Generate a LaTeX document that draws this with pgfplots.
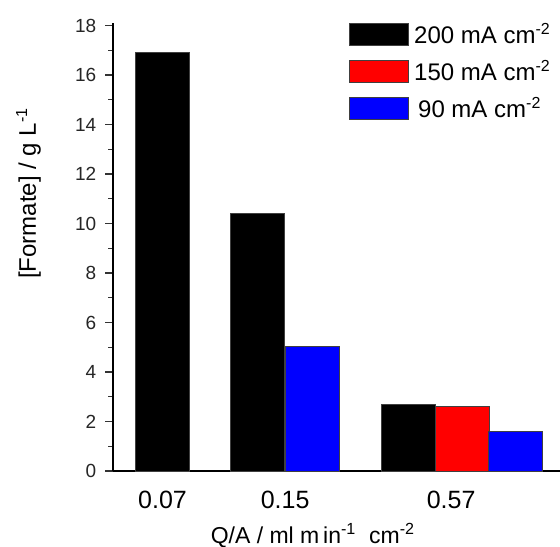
\documentclass[border=0pt]{standalone}
\usepackage{pgfplots}
\pgfplotsset{compat=1.18}
\usepackage{fontspec}
\setmainfont{Liberation Sans}
\pgfplotsset{boxlegend/.style={legend image code/.code={\draw[##1] (0pt,-5.2pt) rectangle (29.5pt,5.8pt);}}}

\begin{document}
\begin{tikzpicture}
\begin{axis}[
  at={(0,0)}, anchor=south west,
  scale only axis, width=223.35pt, height=224pt,
  xmin=-0.895, xmax=7.23, ymin=0, ymax=18.1,
  axis x line=bottom, axis y line=left,
  axis line style={-, line width=0.9pt},
  xtick={0,2.23,5.25}, xticklabels={0.07,0.15,0.57},
  xtick style={draw=none},
  xticklabel style={font=\fontsize{12.5}{14}\selectfont, yshift=-2.5pt},
  ytick={0,2,...,18}, minor y tick num=1,
  tick align=outside,
  major tick length=4pt, minor tick length=2.5pt,
  ytick style={line width=0.6pt, black!80},
  yticklabel style={font=\fontsize{9.5}{11}\selectfont, xshift=-1pt, text=black!85},
  /pgf/number format/assume math mode=true,
  xlabel={Q/A~/~ml~m\,in\textsuperscript{-1}~~cm\textsuperscript{-2}},
  ylabel={[Formate]~/~g~L\textsuperscript{-1}},
  every axis x label/.style={at={(axis description cs:0.447,-0.144)}, anchor=center, font=\fontsize{11.5}{13}\selectfont},
  every axis y label/.style={at={(axis description cs:-0.19,0.62)}, anchor=center, rotate=90, font=\fontsize{12}{14}\selectfont},
  bar width=0.985,
  legend style={draw=none, fill=none, at={(rel axis cs:0.528,0.998)}, anchor=north west,
    yshift=0.6pt,
    inner sep=0pt, outer sep=0pt, row sep=6.75pt,
    nodes={inner sep=0pt}, font=\fontsize{12}{14}\selectfont},
  legend cell align=left,
]
\addplot[ybar, bar shift=0pt, fill=black, draw=black!75, line width=0.5pt, boxlegend]
  coordinates {(0,16.9) (1.73,10.4) (4.47,2.69)};
\addlegendentry{\hspace{2.5pt}200 mA cm\textsuperscript{-2}}
\addplot[ybar, bar shift=0pt, fill=red, draw=black!75, line width=0.5pt, boxlegend]
  coordinates {(5.45,2.6)};
\addlegendentry{\hspace{2.5pt}150 mA cm\textsuperscript{-2}}
\addplot[ybar, bar shift=0pt, fill=blue, draw=black!75, line width=0.5pt, boxlegend]
  coordinates {(2.73,5.05) (6.42,1.59)};
\addlegendentry{\hspace{2.5pt}\,90 mA cm\textsuperscript{-2}}
\end{axis}
\pgfresetboundingbox
\path (-56.65pt,-37.5pt) rectangle (223.35pt,235.5pt);
\end{tikzpicture}
\end{document}
